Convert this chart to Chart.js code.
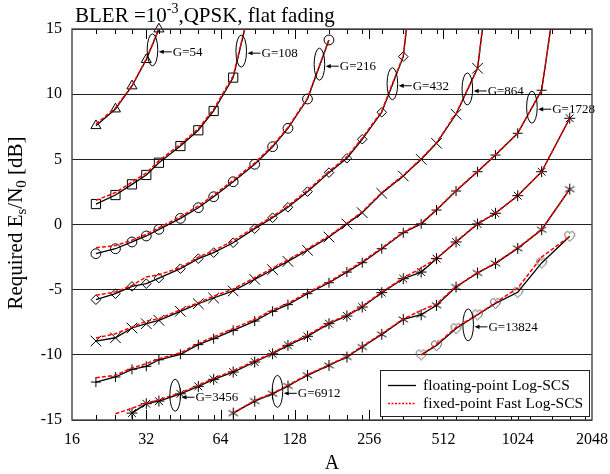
<!DOCTYPE html>
<html>
<head>
<meta charset="utf-8">
<script src="https://cdn.jsdelivr.net/npm/chart.js@4.4.0/dist/chart.umd.min.js"></script>
<style>
  html, body { margin: 0; padding: 0; background: #fff; }
</style>
</head>
<body>
<canvas id="myChart" width="610" height="474"></canvas>
<script>
var _ = null;

// block sizes A (x axis)
var aValues = [20, 24, 28, 32, 36, 44, 52, 60, 72, 88, 104, 120, 144, 176, 208, 240, 288, 352, 416, 480, 576, 704, 832, 1024, 1280, 1664];
var xTickLabels = [16, 32, 64, 128, 256, 512, 1024, 2048];
var minorTicks = [20, 24, 28, 36, 40, 44, 52, 60, 72, 88, 104, 120, 144, 176, 208, 240, 288, 352, 416, 480, 576, 704, 832, 960, 1152, 1408, 1664, 1920];
var yTickLabels = [-15, -10, -5, 0, 5, 10, 15];

// required Es/N0 [dB], floating-point Log-SCS (black) and fixed-point Fast Log-SCS (red)
var floatG54  = [7.58, 8.86, 10.63, 12.65, 15.0, _, _, _, _, _, _, _, _, _, _, _, _, _, _, _, _, _, _, _, _, _];
var fixedG54  = [7.7, 8.95, 10.65, 12.7, 15.0, _, _, _, _, _, _, _, _, _, _, _, _, _, _, _, _, _, _, _, _, _];
var floatG108 = [1.57, 2.26, 3.08, 3.80, 4.74, 6.02, 7.23, 8.71, 11.27, 18.2, _, _, _, _, _, _, _, _, _, _, _, _, _, _, _, _];
var fixedG108 = [1.85, 2.45, 3.25, 3.95, 4.9, 6.15, 7.35, 8.85, 11.4, 18.2, _, _, _, _, _, _, _, _, _, _, _, _, _, _, _, _];
var floatG216 = [-2.24, -1.86, -1.34, -0.88, -0.37, 0.47, 1.29, 2.13, 3.28, 4.62, 5.97, 7.38, 9.63, 14.16, _, _, _, _, _, _, _, _, _, _, _, _];
var fixedG216 = [-1.78, -1.62, -1.2, -0.75, -0.25, 0.6, 1.42, 2.25, 3.4, 4.72, 6.05, 7.45, 9.7, 14.2, _, _, _, _, _, _, _, _, _, _, _, _];
var floatG432 = [-5.77, -5.31, -4.75, -4.54, -4.11, -3.39, -2.62, -2.16, -1.40, -0.32, 0.52, 1.32, 2.52, 3.98, 5.08, 6.54, 8.61, 12.88, 25, _, _, _, _, _, _, _];
var fixedG432 = [-5.43, -5.18, -4.67, -4.03, -3.85, -3.3, -2.5, -2.0, -1.25, -0.2, 0.62, 1.42, 2.62, 4.08, 5.2, 6.62, 8.7, 12.95, 25, _, _, _, _, _, _, _];
var floatG864 = [-8.94, -8.69, -7.94, -7.61, -7.35, -6.66, -6.08, -5.64, -5.10, -4.21, -3.47, -2.83, -1.98, -0.96, 0.04, 0.91, 2.39, 3.72, 5.0, 6.23, 8.46, 11.99, 23, _, _, _];
var fixedG864 = [-8.71, -8.38, -7.87, -7.41, -7.23, -6.55, -6.0, -5.5, -4.95, -4.08, -3.35, -2.72, -1.88, -0.88, 0.1, 0.98, 2.45, 3.78, 5.05, 6.28, 8.5, 12.0, 23, _, _, _];
var floatG1728 = [-12.09, -11.70, -11.11, -10.88, -10.38, -9.96, -9.22, -8.76, -8.12, -7.41, -6.66, -6.15, -5.31, -4.47, -3.65, -2.93, -1.86, -0.63, 0.05, 1.11, 2.57, 4.05, 5.33, 7.0, 10.3, 25];
var fixedG1728 = [-11.76, -11.57, -11.01, -10.68, -10.3, -9.85, -9.12, -8.62, -7.98, -7.28, -6.55, -6.05, -5.22, -4.4, -3.58, -2.85, -1.8, -0.58, 0.1, 1.15, 2.6, 4.08, 5.35, 7.02, 10.3, 25];
var floatG3456 = [_, _, -14.47, -13.75, -13.55, -12.99, -12.42, -11.88, -11.32, -10.55, -9.92, -9.27, -8.58, -7.61, -7.02, -6.33, -5.23, -4.16, -3.65, -2.62, -1.34, 0.04, 0.86, 2.21, 4.05, 8.15];
var fixedG3456 = [_, -14.52, -14.1, -13.7, -13.45, -12.92, -12.35, -11.8, -11.22, -10.48, -9.85, -9.2, -8.5, -7.55, -6.95, -6.28, -5.18, -4.1, -3.34, -2.6, -1.3, 0.06, 0.88, 2.22, 4.05, 8.15];
var floatG6912 = [_, _, _, _, _, _, _, _, -14.47, -13.55, -12.99, -12.39, -11.57, -10.81, -10.17, -9.40, -8.43, -7.28, -6.92, -6.2, -4.8, -3.72, -2.98, -1.83, -0.40, 2.71];
var fixedG6912 = [_, _, _, _, _, _, _, _, -14.45, -13.5, -12.95, -12.33, -11.52, -10.77, -10.12, -9.35, -8.38, -7.25, -6.59, -6.1, -4.75, -3.7, -2.95, -1.8, -0.38, 2.71];
var floatG13824 = [_, _, _, _, _, _, _, _, _, _, _, _, _, _, _, _, _, _, -10.0, -9.28, -7.98, -6.93, -6.05, -5.2, -2.95, -0.9];
var fixedG13824 = [_, _, _, _, _, _, _, _, _, _, _, _, _, _, _, _, _, _, -10.0, -9.2, -7.9, -6.9, -6.0, -4.88, -2.5, -0.9];

// G labels, and where each ellipse sits (A, dB)
var gLabels = ['G=54', 'G=108', 'G=216', 'G=432', 'G=864', 'G=1728', 'G=3456', 'G=6912', 'G=13824'];
var gEllipseA = [33.9, 77.6, 161, 318, 640, 1169, 41.9, 108.8, 645];
var gEllipseDb = [13.4, 13.3, 12.3, 10.8, 10.4, 9.0, -13.1, -12.8, -7.7];

var legendLabels = ['floating-point Log-SCS', 'fixed-point Fast Log-SCS'];

var SERIF = '"Liberation Serif", "Times New Roman", serif';

function asteriskMark() {
  var c = document.createElement('canvas');
  c.width = 13; c.height = 13;
  var g = c.getContext('2d');
  g.strokeStyle = '#000'; g.lineWidth = 1;
  g.beginPath();
  for (var k = 0; k < 3; k++) {
    var ang = Math.PI / 2 + k * Math.PI / 3;
    g.moveTo(6.5 - 5.5 * Math.cos(ang), 6.5 - 5.5 * Math.sin(ang));
    g.lineTo(6.5 + 5.5 * Math.cos(ang), 6.5 + 5.5 * Math.sin(ang));
  }
  g.stroke();
  return c;
}

function heartMark() {
  var c = document.createElement('canvas');
  c.width = 13; c.height = 13;
  var g = c.getContext('2d');
  g.strokeStyle = '#555'; g.lineWidth = 1;
  g.beginPath();
  g.moveTo(6.5, 11.5);
  g.bezierCurveTo(1, 7.5, 0.5, 3.8, 3.2, 2.1);
  g.bezierCurveTo(4.8, 1.2, 6.1, 2.3, 6.5, 3.8);
  g.bezierCurveTo(6.9, 2.3, 8.2, 1.2, 9.8, 2.1);
  g.bezierCurveTo(12.5, 3.8, 12, 7.5, 6.5, 11.5);
  g.stroke();
  return c;
}

var groups = [
  { f: floatG54, x: fixedG54, marker: 'triangle', r: 5.8 },
  { f: floatG108, x: fixedG108, marker: 'rect', r: 6.5 },
  { f: floatG216, x: fixedG216, marker: 'circle', r: 4.9 },
  { f: floatG432, x: fixedG432, marker: 'rectRot', r: 4.8 },
  { f: floatG864, x: fixedG864, marker: 'crossRot', r: 7.5 },
  { f: floatG1728, x: fixedG1728, marker: 'cross', r: 5 },
  { f: floatG3456, x: fixedG3456, marker: 'star', r: 5.5 },
  { f: floatG6912, x: fixedG6912, marker: asteriskMark(), r: 5.5 },
  { f: floatG13824, x: fixedG13824, marker: heartMark(), r: 5.5 }
];

function pts(values) {
  var out = [];
  for (var i = 0; i < aValues.length; i++) {
    if (values[i] !== null) out.push({ x: aValues[i], y: values[i] });
  }
  return out;
}

var datasets = [];
groups.forEach(function (g, gi) {
  datasets.push({
    label: legendLabels[0] + ' ' + gLabels[gi],
    data: pts(g.f),
    borderColor: '#000',
    borderWidth: 1.3,
    pointStyle: g.marker,
    pointRadius: function (c) { return c.raw && c.raw.y > 15.01 ? 0 : g.r; },
    pointBorderColor: '#000',
    pointBackgroundColor: 'rgba(0,0,0,0)',
    pointBorderWidth: 1,
    tension: 0,
    order: 1,
    clip: gi === 0 ? false : undefined
  });
  datasets.push({
    label: legendLabels[1] + ' ' + gLabels[gi],
    data: pts(g.x),
    borderColor: '#ff0000',
    borderWidth: 1.5,
    borderDash: [4, 2],
    pointRadius: 0,
    tension: 0,
    order: 0
  });
});

var decorations = {
  id: 'decorations',
  afterDraw: function (chart) {
    var ctx = chart.ctx, area = chart.chartArea;
    var xs = chart.scales.x, ys = chart.scales.y;
    ctx.save();

    // inward ticks, top and bottom
    ctx.strokeStyle = '#000';
    ctx.lineWidth = 1;
    ctx.beginPath();
    function tick(v, len) {
      var px = Math.round(xs.getPixelForValue(v)) + 0.5;
      ctx.moveTo(px, area.bottom); ctx.lineTo(px, area.bottom - len);
      ctx.moveTo(px, area.top); ctx.lineTo(px, area.top + len);
    }
    xTickLabels.slice(1, -1).forEach(function (v) { tick(v, 10); });
    minorTicks.forEach(function (v) { tick(v, 5); });
    ctx.stroke();

    // ellipses with arrows and G labels
    ctx.font = '13px ' + SERIF;
    ctx.textBaseline = 'middle';
    ctx.textAlign = 'left';
    ctx.fillStyle = '#000';
    gLabels.forEach(function (lab, i) {
      var cx = xs.getPixelForValue(gEllipseA[i]);
      var cy = ys.getPixelForValue(gEllipseDb[i]);
      var rx = 5.3, ry = 16;
      ctx.beginPath();
      ctx.ellipse(cx, cy, rx, ry, 0, 0, 2 * Math.PI);
      ctx.stroke();
      var ay = cy + 2;
      var tip = cx + rx + 1;
      ctx.beginPath();
      ctx.moveTo(tip + 13, ay); ctx.lineTo(tip + 4, ay);
      ctx.stroke();
      ctx.beginPath();
      ctx.moveTo(tip, ay); ctx.lineTo(tip + 5, ay - 2.2); ctx.lineTo(tip + 5, ay + 2.2);
      ctx.closePath(); ctx.fill();
      ctx.fillText(lab, cx + rx + 15, ay + 0.5);
    });

    // legend
    var lx = 380, ly = 370, lw = 209, lh = 46;
    ctx.fillStyle = '#fff';
    ctx.fillRect(lx, ly, lw, lh);
    ctx.strokeStyle = '#222';
    ctx.lineWidth = 1;
    ctx.strokeRect(lx + 0.5, ly + 0.5, lw, lh);
    ctx.beginPath();
    ctx.moveTo(388, 385.5); ctx.lineTo(416, 385.5);
    ctx.strokeStyle = '#000'; ctx.lineWidth = 1.3;
    ctx.stroke();
    ctx.beginPath();
    ctx.setLineDash([2, 1.5]);
    ctx.moveTo(388, 403.5); ctx.lineTo(416, 403.5);
    ctx.strokeStyle = '#ff0000';
    ctx.stroke();
    ctx.setLineDash([]);
    ctx.fillStyle = '#000';
    ctx.font = '15.5px ' + SERIF;
    ctx.fillText(legendLabels[0], 423, 386);
    ctx.fillText(legendLabels[1], 423, 404);

    // frame
    ctx.strokeStyle = '#444';
    ctx.lineWidth = 1.4;
    ctx.strokeRect(area.left, area.top, area.right - area.left, area.bottom - area.top);

    // title with superscript
    ctx.textBaseline = 'alphabetic';
    var tx = 75, ty = 22;
    ctx.font = '21px ' + SERIF;
    ctx.fillText('BLER =10', tx, ty);
    tx += ctx.measureText('BLER =10').width;
    ctx.font = '14px ' + SERIF;
    ctx.fillText('-3', tx, ty - 9);
    tx += ctx.measureText('-3').width;
    ctx.font = '21px ' + SERIF;
    ctx.fillText(',QPSK, flat fading', tx, ty);

    // x axis label
    ctx.font = '20px ' + SERIF;
    ctx.textAlign = 'center';
    ctx.fillText('A', 332, 469);

    // y axis label with subscripts
    var parts = [['Required E', 21, 0], ['s', 15, 4], ['/N', 21, 0], ['0', 15, 4], [' [dB]', 21, 0]];
    var total = 0;
    parts.forEach(function (p) { ctx.font = p[1] + 'px ' + SERIF; p.push(ctx.measureText(p[0]).width); total += p[3]; });
    ctx.translate(22, 223);
    ctx.rotate(-Math.PI / 2);
    ctx.textAlign = 'left';
    var px = -total / 2;
    parts.forEach(function (p) {
      ctx.font = p[1] + 'px ' + SERIF;
      ctx.fillText(p[0], px, p[2]);
      px += p[3];
    });
    ctx.restore();
  }
};

new Chart('myChart', {
  type: 'line',
  data: { datasets: datasets },
  options: {
    responsive: false,
    animation: false,
    devicePixelRatio: 1,
    layout: { padding: { top: 29, right: 18, bottom: 0, left: 0 } },
    plugins: { legend: { display: false }, title: { display: false }, tooltip: { enabled: false } },
    scales: {
      x: {
        type: 'logarithmic',
        min: 16,
        max: 2048,
        afterBuildTicks: function (s) { s.ticks = xTickLabels.map(function (v) { return { value: v }; }); },
        afterFit: function (s) { s.height = 54; s.paddingLeft = 0; s.paddingRight = 0; },
        ticks: {
          font: { family: SERIF, size: 16 },
          color: '#000',
          padding: 10,
          maxRotation: 0,
          autoSkip: false,
          callback: function (v) { return String(v); }
        },
        grid: { display: false, drawTicks: false },
        border: { display: false }
      },
      y: {
        min: -15,
        max: 15,
        afterBuildTicks: function (s) { s.ticks = yTickLabels.map(function (v) { return { value: v }; }); },
        afterFit: function (s) { s.width = 72; },
        ticks: {
          font: { family: SERIF, size: 16 },
          color: '#000',
          padding: 10,
          callback: function (v) { return String(v); }
        },
        grid: { color: '#222', lineWidth: 1, drawTicks: false },
        border: { display: false }
      }
    }
  },
  plugins: [decorations]
});
</script>
</body>
</html>
